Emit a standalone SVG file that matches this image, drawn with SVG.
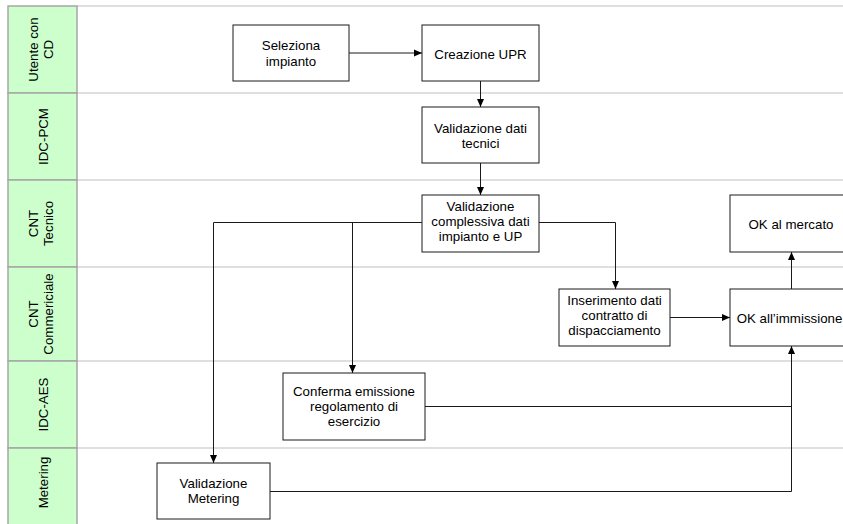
<svg xmlns="http://www.w3.org/2000/svg" width="843" height="524" viewBox="0 0 843 524">
  <style>
    .lane-head { fill: #ccffcc; stroke: #a6a6a6; stroke-width: 1.5; }
    .lane-line { stroke: #d4d4d4; stroke-width: 1.5; fill: none; }
    .box { fill: #ffffff; stroke: #1a1a1a; stroke-width: 1; }
    .conn { fill: none; stroke: #1a1a1a; stroke-width: 1; }
    text { font-family: "Liberation Sans", Arial, sans-serif; font-size: 13.3px; fill: #000000; }
    .c { text-anchor: middle; }
  </style>
  <defs>
    <marker id="arrow" viewBox="0 0 8 8" refX="8" refY="4" markerWidth="8" markerHeight="8" markerUnits="userSpaceOnUse" orient="auto">
      <path d="M0,0.5 L8,4 L0,7.5 z" fill="#000000"/>
    </marker>
  </defs>
  <rect width="843" height="524" fill="#ffffff"/>

  <!-- swimlane headers and separators -->
  <g id="lanes">
    <line class="lane-line" x1="77" y1="6" x2="843" y2="6"/>
    <line class="lane-line" x1="77" y1="93" x2="843" y2="93"/>
    <line class="lane-line" x1="77" y1="180" x2="843" y2="180"/>
    <line class="lane-line" x1="77" y1="267" x2="843" y2="267"/>
    <line class="lane-line" x1="77" y1="361" x2="843" y2="361"/>
    <line class="lane-line" x1="77" y1="448" x2="843" y2="448"/>
    <rect class="lane-head" x="8" y="6" width="69" height="87"/>
    <rect class="lane-head" x="8" y="93" width="69" height="87"/>
    <rect class="lane-head" x="8" y="180" width="69" height="87"/>
    <rect class="lane-head" x="8" y="267" width="69" height="94"/>
    <rect class="lane-head" x="8" y="361" width="69" height="87"/>
    <rect class="lane-head" x="8" y="448" width="69" height="90"/>
    <text class="c" transform="translate(42,49.5) rotate(-90)"><tspan x="0" y="-4.5">Utente con</tspan><tspan x="0" y="11">CD</tspan></text>
    <text class="c" transform="translate(42,136.5) rotate(-90)" x="0" y="5.5">IDC-PCM</text>
    <text class="c" transform="translate(42,223.5) rotate(-90)"><tspan x="0" y="-4.5">CNT</tspan><tspan x="0" y="11">Tecnico</tspan></text>
    <text class="c" transform="translate(42,314) rotate(-90)"><tspan x="0" y="-4.5">CNT</tspan><tspan x="0" y="11">Commericiale</tspan></text>
    <text class="c" transform="translate(42,404.5) rotate(-90)" x="0" y="5.5">IDC-AES</text>
    <text class="c" transform="translate(42,482.5) rotate(-90)" x="0" y="5.5">Metering</text>
  </g>

  <!-- connectors -->
  <g id="connectors">
    <path class="conn" d="M349,53 H422" marker-end="url(#arrow)"/>
    <path class="conn" d="M480.5,81 V107" marker-end="url(#arrow)"/>
    <path class="conn" d="M480.5,163 V195" marker-end="url(#arrow)"/>
    <path class="conn" d="M422,222.5 H213.5 V463" marker-end="url(#arrow)"/>
    <path class="conn" d="M352.5,222.5 V373" marker-end="url(#arrow)"/>
    <path class="conn" d="M539,222.5 H615.5 V289" marker-end="url(#arrow)"/>
    <path class="conn" d="M670,317.5 H730" marker-end="url(#arrow)"/>
    <path class="conn" d="M791.5,289 V252" marker-end="url(#arrow)"/>
    <path class="conn" d="M425,406.5 H791.5 V346" marker-end="url(#arrow)"/>
    <path class="conn" d="M270,491.5 H791.5 V380"/>
  </g>

  <!-- process steps -->
  <g id="seleziona-impianto">
    <rect class="box" x="233" y="25" width="116" height="56"/>
    <text class="c"><tspan x="291" y="50">Seleziona</tspan><tspan x="291" y="65.5">impianto</tspan></text>
  </g>
  <g id="creazione-upr">
    <rect class="box" x="422" y="25" width="117" height="56"/>
    <text class="c" x="480.5" y="58.5">Creazione UPR</text>
  </g>
  <g id="validazione-dati-tecnici">
    <rect class="box" x="422" y="107" width="117" height="56"/>
    <text class="c"><tspan x="480.5" y="133">Validazione dati</tspan><tspan x="480.5" y="148">tecnici</tspan></text>
  </g>
  <g id="validazione-complessiva">
    <rect class="box" x="422" y="195" width="117" height="57"/>
    <text class="c"><tspan x="480.5" y="211">Validazione</tspan><tspan x="480.5" y="226">complessiva dati</tspan><tspan x="480.5" y="241">impianto e UP</tspan></text>
  </g>
  <g id="ok-al-mercato">
    <rect class="box" x="730" y="195" width="122" height="57"/>
    <text class="c" x="791" y="228.5">OK al mercato</text>
  </g>
  <g id="inserimento-dati-contratto">
    <rect class="box" x="559" y="289" width="111" height="57"/>
    <text class="c"><tspan x="614.5" y="305">Inserimento dati</tspan><tspan x="614.5" y="320">contratto di</tspan><tspan x="614.5" y="335">dispacciamento</tspan></text>
  </g>
  <g id="ok-all-immissione">
    <rect class="box" x="730" y="289" width="122" height="57"/>
    <text class="c" x="789.5" y="323">OK all’immissione</text>
  </g>
  <g id="conferma-emissione">
    <rect class="box" x="283" y="373" width="142" height="67"/>
    <text class="c"><tspan x="354" y="395.5">Conferma emissione</tspan><tspan x="354" y="410.5">regolamento di</tspan><tspan x="354" y="425.5">esercizio</tspan></text>
  </g>
  <g id="validazione-metering">
    <rect class="box" x="157" y="463" width="113" height="56"/>
    <text class="c"><tspan x="213.5" y="488">Validazione</tspan><tspan x="213.5" y="503">Metering</tspan></text>
  </g>
</svg>
